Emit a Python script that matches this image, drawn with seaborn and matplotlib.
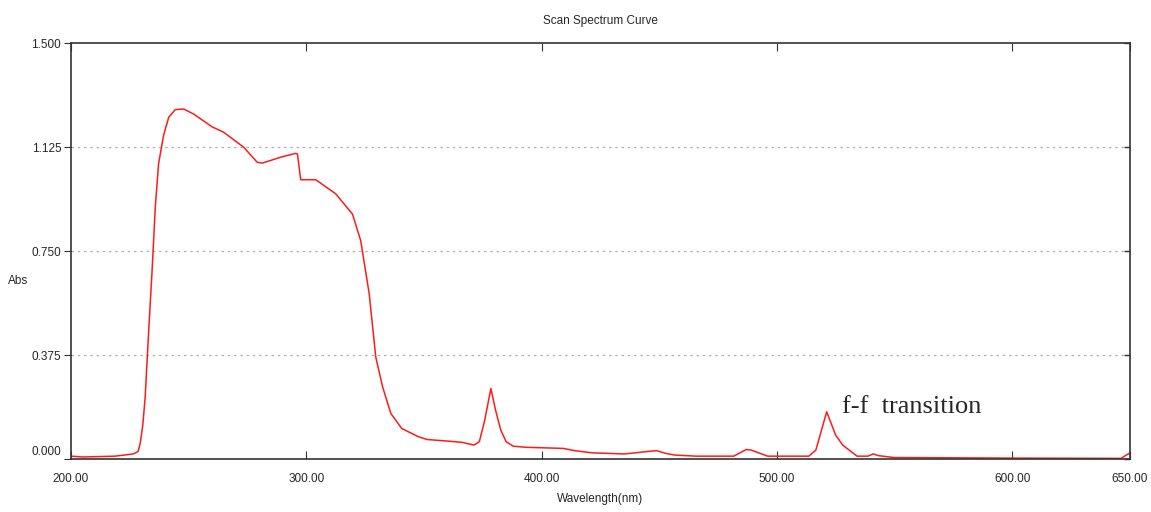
"""
Scan spectrum curve (UV-Vis absorbance) recreated with seaborn
"""
import matplotlib
matplotlib.use("Agg")
import matplotlib.pyplot as plt
from matplotlib.transforms import ScaledTranslation
import seaborn as sns
import pandas as pd

# ========== Data ==========
wavelength = [
    200, 205, 218.7, 226.5, 228.5, 229.4, 230.5, 231.5, 233, 234.4,
    235.8, 237.2, 239.3, 241.5, 244.3, 247.9, 252.1, 259.9, 264.9, 273.4,
    279.1, 281.3, 289, 295.4, 296.2, 297.6, 304, 312.5, 319.6, 323.1,
    326.7, 329.5, 332.4, 335.9, 340.5, 347.6, 351.4, 360.6, 366, 371.2,
    373.5, 375.8, 378.4, 380.4, 382.6, 384.9, 387.9, 393.3, 409.2, 413.8,
    421.4, 435.1, 439.7, 444, 448.8, 452.7, 456.5, 465.6, 481.6, 486.9,
    489, 496, 513.5, 516.5, 521.1, 524.9, 527.9, 534, 538.6, 540.9,
    543, 549.7, 600, 646.2, 648.4, 650,
]
absorbance = [
    0.011, 0.008, 0.011, 0.019, 0.028, 0.057, 0.123, 0.223, 0.462, 0.672,
    0.908, 1.065, 1.167, 1.233, 1.261, 1.263, 1.245, 1.199, 1.179, 1.125,
    1.071, 1.068, 1.089, 1.103, 1.101, 1.008, 1.008, 0.957, 0.884, 0.788,
    0.597, 0.368, 0.261, 0.165, 0.111, 0.081, 0.071, 0.065, 0.061, 0.051,
    0.063, 0.141, 0.255, 0.177, 0.105, 0.063, 0.047, 0.043, 0.039, 0.031,
    0.023, 0.019, 0.023, 0.027, 0.031, 0.021, 0.015, 0.011, 0.011, 0.035,
    0.033, 0.011, 0.011, 0.033, 0.171, 0.087, 0.051, 0.011, 0.011, 0.019,
    0.013, 0.006, 0.004, 0.003, 0.015, 0.023,
]
x_ticks = [200, 300, 400, 500, 600, 650]
y_ticks = [0.0, 0.375, 0.75, 1.125, 1.5]
grid_levels = [0.375, 0.75, 1.125]

df = pd.DataFrame({"Wavelength": wavelength, "Abs": absorbance})

# ========== Plot ==========
sns.set_style("white")
plt.rcParams["font.family"] = ["Liberation Sans Narrow", "Liberation Sans", "DejaVu Sans"]

fig = plt.figure(figsize=(11.51, 5.12), dpi=100)
ax = fig.add_axes([0.0617, 0.1031, 0.9201, 0.8123])

for lvl in grid_levels:
    ax.axhline(lvl, color="#b0b0b0", linestyle=(0, (2, 3)), linewidth=0.9, zorder=0)

sns.lineplot(data=df, x="Wavelength", y="Abs", sort=False, estimator=None,
             color="#ff1a1a", linewidth=1.1, ax=ax)

ax.set_xlim(200, 650)
ax.set_ylim(0, 1.5)
ax.set_xticks(x_ticks)
ax.set_xticklabels([f"{v:.2f}" for v in x_ticks])
ax.set_yticks(y_ticks)
ax.set_yticklabels([f"{v:.3f}" for v in y_ticks])

ax.tick_params(axis="x", direction="in", length=6, width=0.8, top=True, bottom=True,
               labelsize=8.5, pad=10, color="#333333")
ax.tick_params(axis="y", direction="out", length=5, width=0.8, left=True,
               labelsize=8.5, pad=2, color="#333333")

# the 0.000 label sits a little above the bottom axis in the original
lbl0 = ax.get_yticklabels()[0]
lbl0.set_transform(lbl0.get_transform() + ScaledTranslation(0, 9 / 100, fig.dpi_scale_trans))

# small inward ticks on the right axis
right = ax.secondary_yaxis("right")
right.set_yticks(y_ticks)
right.tick_params(direction="in", length=4, width=1.0, labelright=False, color="#333333")

for side in ["left", "right", "top", "bottom"]:
    ax.spines[side].set_color("#333333")
    ax.spines[side].set_linewidth(1.2)
right.spines["right"].set_visible(False)

ax.set_xlabel("Wavelength(nm)", fontsize=8.5, labelpad=6)
ax.set_ylabel("Abs", fontsize=8.5, rotation=0)
ax.yaxis.set_label_coords(-0.05, 0.415)
ax.set_title("Scan Spectrum Curve", fontsize=8.5, pad=14)

ax.text(527.4, 0.19, "f-f  transition", fontsize=19,
        family=["Liberation Serif", "DejaVu Serif"], ha="left", va="center")

fig.savefig("out.png", dpi=100)
plt.close(fig)
